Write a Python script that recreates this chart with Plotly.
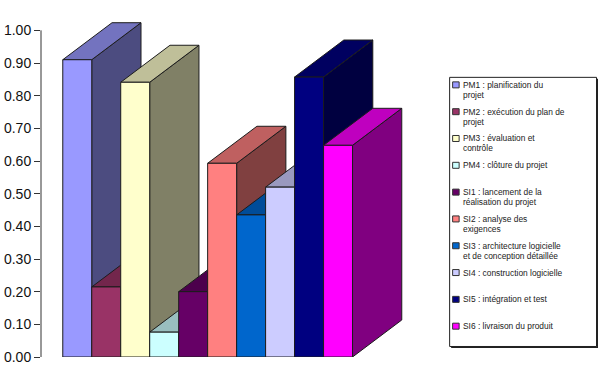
import plotly.graph_objects as go

CATEGORIES = ["PM1", "PM2", "PM3", "PM4", "SI1", "SI2", "SI3", "SI4", "SI5", "SI6"]
VALUES = [0.91, 0.2145, 0.841, 0.076, 0.20, 0.593, 0.435, 0.52, 0.857, 0.648]
COLORS = ["#9999FF", "#993366", "#FFFFCC", "#CCFFFF", "#660066",
          "#FF8080", "#0066CC", "#CCCCFF", "#000080", "#FF00FF"]
LEGEND_LINES = [
    ["PM1 : planification du", "projet"],
    ["PM2 : exécution du plan de", "projet"],
    ["PM3 : évaluation et", "contrôle"],
    ["PM4 : clôture du projet"],
    ["SI1 : lancement de la", "réalisation du projet"],
    ["SI2 : analyse des", "exigences"],
    ["SI3 : architecture logicielle", "et de conception détaillée"],
    ["SI4 : construction logicielle"],
    ["SI5 : intégration et test"],
    ["SI6 : livraison du produit"],
]
TICKS = [i / 10 for i in range(11)]

W, H = 600, 373
LEFT = 40.5
Y0 = 357.0
UNIT_Y = 326.5
BAR_PX = 29.0
FIRST_BAR_PX = 62.3
DX = 49.3 / BAR_PX
DY = 37.0 / UNIT_Y
Y_TOP = 1.05
TOP = Y0 - Y_TOP * UNIT_Y
XMIN = -(FIRST_BAR_PX - LEFT) / BAR_PX
XMAX = XMIN + (W - LEFT) / BAR_PX
EDGE = "#1c1c1c"


def shade(hex_color, k):
    r, g, b = (int(hex_color[i:i + 2], 16) for i in (1, 3, 5))
    return f"rgb({round(r * k)},{round(g * k)},{round(b * k)})"


def px(x):
    return (x - LEFT) / (W - LEFT)


def py(y):
    return (Y0 - y) / (Y0 - TOP)


fig = go.Figure()


def poly(xs, ys, color, name):
    fig.add_trace(go.Scatter(
        x=xs + xs[:1], y=ys + ys[:1], mode="lines", fill="toself",
        fillcolor=color, line=dict(color=EDGE, width=1),
        showlegend=False, hoverinfo="skip", name=name,
    ))


for i, (name, v, c) in enumerate(zip(CATEGORIES, VALUES, COLORS)):
    a, b = float(i), float(i + 1)
    poly([b, b + DX, b + DX, b], [0, DY, v + DY, v], shade(c, 0.5), name + " side")
    poly([a, b, b + DX, a + DX], [v, v, v + DY, v + DY], shade(c, 0.75), name + " top")
    poly([a, b, b, a], [0, 0, v, v], c, name)

shapes = [
    dict(type="line", xref="x domain", yref="y", x0=0, x1=0, y0=0, y1=1,
         line=dict(color="#333333", width=1)),
    dict(type="rect", xref="paper", yref="paper", x0=px(451), x1=px(598),
         y0=py(348), y1=py(79), fillcolor="#222222", line=dict(width=0), layer="above"),
    dict(type="rect", xref="paper", yref="paper", x0=px(449.5), x1=px(596.5),
         y0=py(346.5), y1=py(77.5), fillcolor="white",
         line=dict(color="#222222", width=1), layer="above"),
]
annotations = []
for i, lines in enumerate(LEGEND_LINES):
    cy = 85 + i * 26.8
    shapes.append(dict(type="rect", xref="paper", yref="paper",
                       x0=px(452.5), x1=px(459), y0=py(cy + 3), y1=py(cy - 3),
                       fillcolor=COLORS[i], line=dict(color="#333333", width=1),
                       layer="above"))
    for j, line in enumerate(lines):
        annotations.append(dict(
            xref="paper", yref="paper", x=px(462), y=py(cy + j * 10),
            text=line, showarrow=False, xanchor="left", yanchor="middle",
            align="left", borderpad=0,
            font=dict(family="Liberation Sans", size=8.4, color="#222222"),
        ))

fig.update_layout(
    width=W, height=H, paper_bgcolor="white", plot_bgcolor="white",
    margin=dict(l=LEFT, r=0, t=TOP, b=H - Y0, pad=0, autoexpand=False),
    showlegend=False, shapes=shapes, annotations=annotations,
    xaxis=dict(range=[XMIN, XMAX], visible=False, fixedrange=True),
    yaxis=dict(range=[0, Y_TOP], tickvals=TICKS, ticktext=[f"{t:.2f}" for t in TICKS],
               ticks="outside", ticklen=6, tickwidth=1, tickcolor="#333333",
               showline=False, showgrid=False, zeroline=False, fixedrange=True,
               tickfont=dict(family="Liberation Sans", size=14, color="#111111")),
)

fig.write_html("out.html", config=dict(displayModeBar=False),
               post_script="document.body.style.margin='0';document.body.style.overflow='hidden';")
